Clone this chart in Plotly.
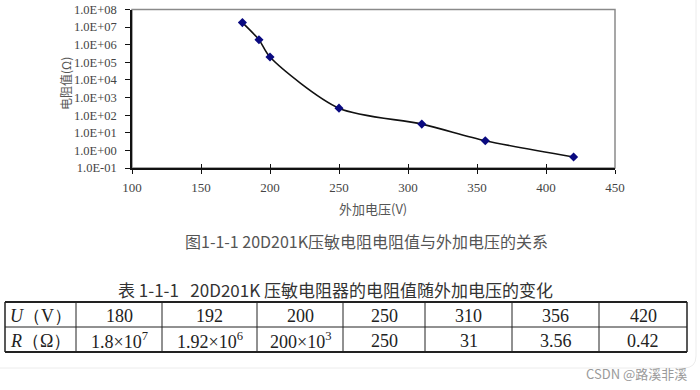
import plotly.graph_objects as go

# data
voltage = [180, 192, 200, 250, 310, 356, 420]
resistance = [1.8e7, 1.92e6, 2.0e5, 250, 31, 3.56, 0.42]
y_tickvals = [1e-1, 1e0, 1e1, 1e2, 1e3, 1e4, 1e5, 1e6, 1e7, 1e8]
y_ticktext = ["1.0E-01", "1.0E+00", "1.0E+01", "1.0E+02", "1.0E+03",
              "1.0E+04", "1.0E+05", "1.0E+06", "1.0E+07", "1.0E+08"]
x_tickvals = [100, 150, 200, 250, 300, 350, 400, 450]
table_row_u = ["<i>U</i>（V）", "180", "192", "200", "250", "310", "356", "420"]
table_row_r = ["<i>R</i>（Ω）", "1.8×10<sup>7</sup>", "1.92×10<sup>6</sup>",
               "200×10<sup>3</sup>", "250", "31", "3.56", "0.42"]

OFF = 0  # page body margin removed by post_script
W, H = 700, 390
serif = "Liberation Serif, Times New Roman, serif"
cjk = "Noto Sans CJK SC"

# table layout (screen pixels)
col_edges = [5, 76, 162, 257, 343, 425, 512, 599, 687]
row_edges = [302, 327, 352]


def px(x):
    return (x - OFF) / W


def py(y):
    return 1 - (y - OFF) / H


def note(text, x, y, size, color, family=cjk, angle=0):
    return dict(text=text, x=px(x), y=py(y), xref="paper", yref="paper",
                xanchor="center", yanchor="middle", showarrow=False, textangle=angle,
                font=dict(family=family, size=size, color=color))


fig = go.Figure()
fig.add_trace(go.Scatter(
    x=voltage, y=resistance, mode="lines+markers",
    line=dict(color="#111111", width=1.6, shape="spline", smoothing=0.8),
    marker=dict(symbol="diamond", size=7, color="#0a0a80"),
    xaxis="x", yaxis="y", showlegend=False, hoverinfo="x+y",
))
fig.add_trace(go.Scatter(x=[None], y=[None], xaxis="x2", yaxis="y", showlegend=False))

xdom = [px(132), px(615)]
ydom = [py(168), py(9.5)]

shapes = [
    dict(type="rect", xref="x domain", yref="y domain", x0=0, x1=1, y0=0, y1=1,
         line=dict(color="#8a8a8a", width=1.5), layer="below"),
    dict(type="path", xref="paper", yref="paper",
         path=f"M {-0.02} 1.02 L {-0.02} {py(368)} L {px(684)} {py(368)} "
              f"Q {px(696)} {py(368)} {px(696)} {py(356)} L {px(696)} 1.02",
         line=dict(color="#ececec", width=1), layer="below"),
]
for i, ye in enumerate(row_edges):
    w = 2 if i in (0, len(row_edges) - 1) else 1
    shapes.append(dict(type="line", xref="paper", yref="paper",
                       x0=px(col_edges[0]), x1=px(col_edges[-1]), y0=py(ye), y1=py(ye),
                       line=dict(color="#222222", width=w)))
for j, xe in enumerate(col_edges):
    w = 1.5 if j in (0, len(col_edges) - 1) else 1
    shapes.append(dict(type="line", xref="paper", yref="paper",
                       x0=px(xe), x1=px(xe), y0=py(row_edges[0]), y1=py(row_edges[-1]),
                       line=dict(color="#222222", width=w)))

annotations = [
    note("电阻值(Ω)", 65, 84, 12, "#555555", angle=-90),
    note("外加电压(V)", 373, 208, 13, "#555555"),
    note("图1-1-1 20D201K压敏电阻电阻值与外加电压的关系", 366, 241, 16, "#555555"),
    note("表 1-1-1   20D201K 压敏电阻器的电阻值随外加电压的变化", 335, 289, 17, "#333333"),
    note("CSDN @路溪非溪", 636, 373, 13, "#9a9a9a"),
]
for r, row in enumerate([table_row_u, table_row_r]):
    yc = (row_edges[r] + row_edges[r + 1]) / 2
    for c, txt in enumerate(row):
        xc = (col_edges[c] + col_edges[c + 1]) / 2
        annotations.append(note(txt, xc, yc + 1, 18, "#222222", family=serif))

fig.update_layout(
    width=W, height=H, margin=dict(l=0, r=0, t=0, b=0),
    paper_bgcolor="white", plot_bgcolor="white",
    xaxis=dict(domain=xdom, range=[100, 450], tickvals=x_tickvals, automargin=False,
               showline=True, linecolor="#111111", linewidth=1.5,
               ticks="outside", ticklen=4, tickcolor="#111111", tickwidth=1.2,
               showgrid=False, zeroline=False, anchor="y", ticklabeloverflow="allow",
               tickfont=dict(family=serif, size=13, color="#444444"),
               ticklabelstandoff=3),
    xaxis2=dict(domain=xdom, range=[100, 450], tickvals=x_tickvals, overlaying="x",
                ticks="inside", ticklen=4, tickcolor="#111111", tickwidth=1.2,
                showticklabels=False, showgrid=False, zeroline=False, showline=False,
                anchor="y", side="bottom", automargin=False),
    yaxis=dict(domain=ydom, type="log", range=[-1, 8], tickvals=y_tickvals,
               ticktext=y_ticktext, showline=True, linecolor="#111111", linewidth=1.5,
               ticks="outside", ticklen=5, tickcolor="#111111", tickwidth=1.2,
               showgrid=False, zeroline=False, automargin=False, ticklabelstandoff=6,
               ticklabeloverflow="allow",
               tickfont=dict(family=serif, size=12.5, color="#444444")),
    shapes=shapes,
    annotations=annotations,
)

fig.write_html("out.html", config={"displayModeBar": False},
               post_script="document.body.style.margin='0px';document.body.style.overflow='hidden';")
